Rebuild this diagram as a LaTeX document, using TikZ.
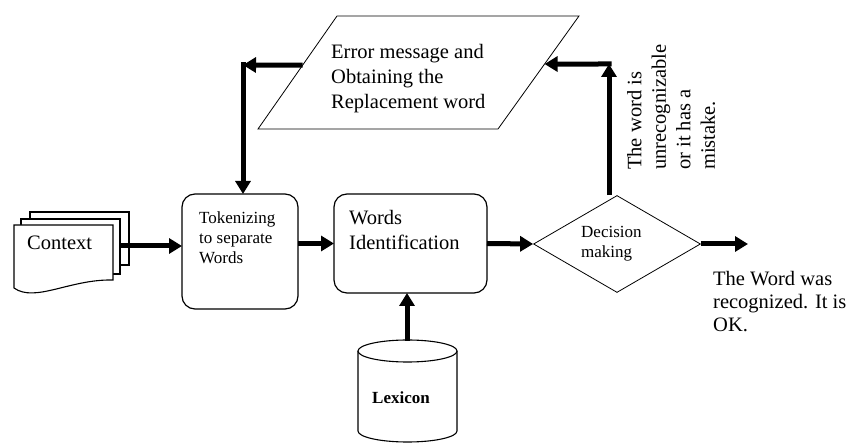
\documentclass[tikz,border=0pt]{standalone}
\usepackage{fontspec}
\setmainfont{Liberation Serif}
\usetikzlibrary{arrows.meta,shapes.geometric,calc}

\begin{document}
\begin{tikzpicture}[x=1pt,y=-1pt,
  box/.style={draw, line width=1.2pt, rounded corners=13pt, fill=white, inner sep=0pt, outer sep=0pt, anchor=north west},
  page/.style={draw, line width=1.1pt, fill=white},
  thinline/.style={draw, line width=0.8pt},
  arr/.style={line width=5pt, -{Triangle[length=13pt,width=15pt]}},
  bigtext/.style={font=\fontsize{20.5}{25}\selectfont, inner sep=0pt, align=left},
  smalltext/.style={font=\fontsize{17}{20}\selectfont, inner sep=0pt, align=left},
]
\useasboundingbox (0,0) rectangle (846,443);

% stacked document pages
\draw[page] (30,212) rectangle (129,265);
\draw[page] (21,219) rectangle (120,274);
\draw[page] (14,225) -- (113,225) -- (113,280)
  .. controls (70,279) and (35,303) .. (14,288) -- cycle;
\node[font=\fontsize{20.5}{25}\selectfont, inner sep=0pt, anchor=base west] (ctx) at (27,250) {Context};
\coordinate (ctxout) at (120,246);

% processing boxes
\node[box, minimum width=116pt, minimum height=115pt] (tok) at (182,194) {};
\node[smalltext, anchor=north west] (toktext) at (199,211.5) {Tokenizing\\to separate\\Words};

\node[box, minimum width=153pt, minimum height=99pt] (wid) at (334,194) {};
\node[bigtext, anchor=north west] (widtext) at (349,210) {Words\\Identification};

% decision
\node[diamond, thinline, minimum width=167pt, minimum height=97pt, inner sep=0pt, aspect=1.7] (dec) at (617,244) {};
\node[smalltext, anchor=north west] (dectext) at (581,226.5) {Decision\\making};

% error message parallelogram
\coordinate (pTL) at (337,16);
\coordinate (pTR) at (579,16);
\coordinate (pBR) at (498,129);
\coordinate (pBL) at (258,129);
\draw[thinline] (pTL) -- (pTR) -- (pBR) -- (pBL) -- cycle;
\node[bigtext, anchor=north west] (errtext) at (331,44) {Error message and\\Obtaining the\\Replacement word};
\coordinate (pR) at ($(pTR)!0.425!(pBR)$);
\coordinate (pL) at ($(pTL)!0.434!(pBL)$);

% lexicon store
\draw[line width=1.1pt, fill=white] (358,351) -- (358,431)
  arc[start angle=180, end angle=0, x radius=49.5, y radius=11] -- (457,351);
\draw[line width=1.1pt, fill=white] (407.5,351) ellipse [x radius=49.5, y radius=11];
\node[font=\fontsize{17}{20}\selectfont\bfseries, inner sep=0pt, anchor=base] (lex) at (401,403) {Lexicon};
\coordinate (lexTop) at (407,341);

% outcome labels
\node[bigtext, rotate=90, anchor=north west, font=\fontsize{20.5}{24.5}\selectfont] (badtext) at (627,170)
  {The word is\\unrecognizable\\or it has a\\mistake.};
\node[bigtext, anchor=north west, font=\fontsize{20.5}{23}\selectfont] (oktext) at (713,271)
  {The Word was\\recognized. It is\\OK.};

% connectors
\coordinate (cR) at (609,64);
\coordinate (cL) at (243,65);
\coordinate (okend) at (748,244);

\draw[arr] (ctxout) -- (ctxout -| tok.west);
\draw[arr] (tok.east |- wid.west) -- (wid.west);
\draw[arr] (wid.east) -- (dec.west);
\draw[arr] (dec.east) -- (okend);
\draw[arr] (lexTop) -- (lexTop |- wid.south);
\draw[arr] (cR |- dec.north) -- (cR);
\draw[arr, line cap=rect] (cR) -- (pR);
\draw[arr] (pL) -- (cL);
\draw[arr, line cap=rect] (cL) -- (cL |- tok.north);
\end{tikzpicture}
\end{document}
